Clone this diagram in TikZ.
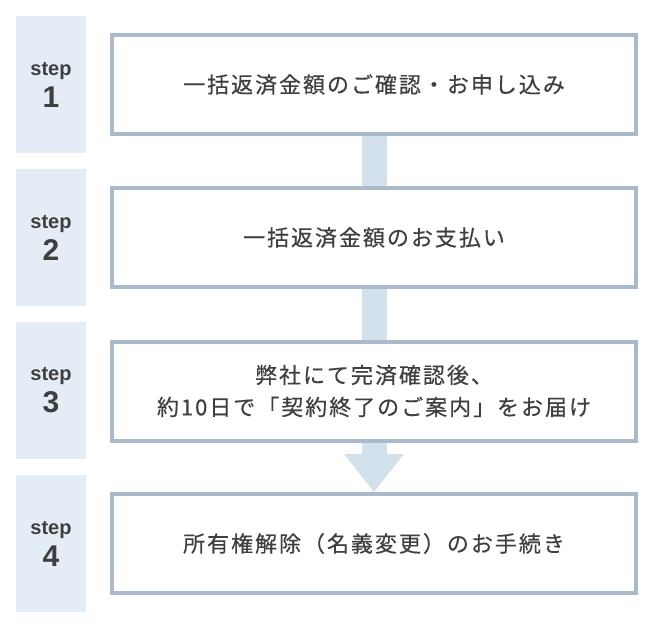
\documentclass[tikz,border=0pt]{standalone}
\usepackage{fontspec}
\usetikzlibrary{calc}
\newfontfamily\jpfont[LetterSpace=9,FakeBold=0.35]{Noto Sans CJK JP}
\newfontfamily\stepfont{Liberation Sans}
\definecolor{stepbg}{HTML}{E4ECF5}
\definecolor{boxline}{HTML}{AABACB}
\definecolor{conncol}{HTML}{D2E1EC}
\definecolor{txt}{HTML}{3F3F3F}
\tikzset{
  stepbox/.style={fill=stepbg, minimum width=70pt, minimum height=137pt, inner sep=0pt, align=center, text=txt,
    font=\stepfont\bfseries\fontsize{20pt}{32pt}\selectfont},
  mainbox/.style={draw=boxline, line width=4pt, fill=white, minimum width=524pt, minimum height=99pt, inner sep=0pt, align=center, text=txt, font=\jpfont\fontsize{22pt}{32pt}\selectfont},
  connbar/.style={fill=conncol}
}
\newcommand{\steplabel}[1]{step\\{\fontsize{30pt}{32pt}\selectfont #1}}
\begin{document}
\begin{tikzpicture}[x=1pt,y=-1pt]
\useasboundingbox (0,0) rectangle (655,629);
% step labels
\node[stepbox] (s1) at (51,84.5) {\steplabel{1}};
\node[stepbox] (s2) at (51,237.5) {\steplabel{2}};
\node[stepbox] (s3) at (51,390.5) {\steplabel{3}};
\node[stepbox] (s4) at (51,543.5) {\steplabel{4}};
% connectors (behind boxes)
\coordinate (c1) at (374,84.5);
\coordinate (c2) at (374,237.5);
\coordinate (c3) at (374,391);
\coordinate (c4) at (374,543.5);
\fill[connbar] ($(c1)+(-12.5,0)$) rectangle ($(c2)+(12.5,0)$);
\fill[connbar] ($(c2)+(-12.5,0)$) rectangle ($(c3)+(12.5,0)$);
\fill[connbar] ($(c3)+(-12.5,0)$) rectangle (386.5,454);
\fill[connbar] (344,454) -- (404,454) -- (374,492) -- cycle;
% main boxes
\node[mainbox] (b1) at (c1) {一括返済金額のご確認・お申し込み};
\node[mainbox] (b2) at (c2) {一括返済金額のお支払い};
\node[mainbox] (b3) at (c3) {弊社にて完済確認後、\\約10日で「契約終了のご案内」をお届け};
\node[mainbox] (b4) at (c4) {所有権解除（名義変更）のお手続き};
\end{tikzpicture}
\end{document}
